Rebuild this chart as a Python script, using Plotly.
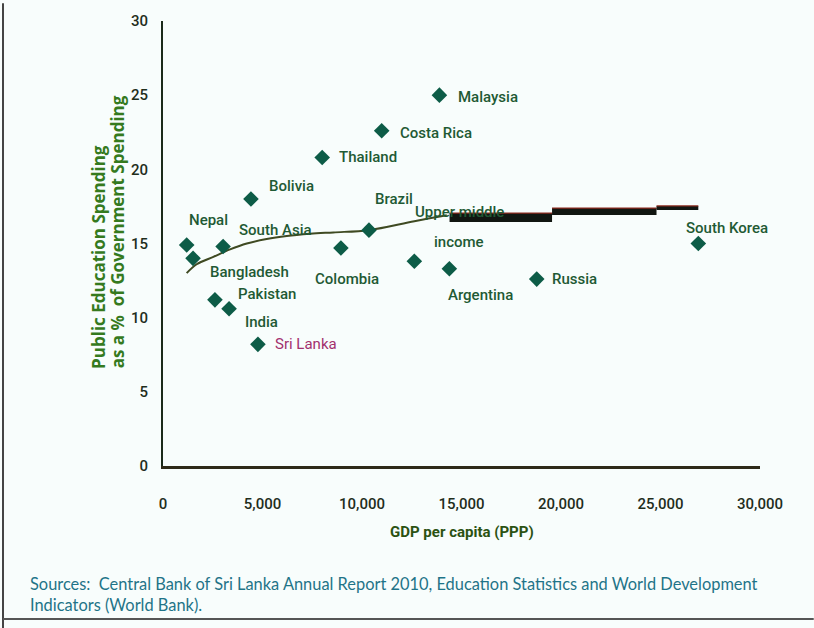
import plotly.graph_objects as go

# Countries / groups: GDP per capita (PPP, US$) and education share of government spending (%)
countries = ["Nepal", "Bangladesh", "South Asia", "Pakistan", "India", "Sri Lanka",
             "Bolivia", "Thailand", "Colombia", "Brazil", "Costa Rica", "Malaysia",
             "Upper middle income", "Argentina", "Russia", "South Korea"]
gdp_ppp = [1190, 1510, 3020, 2610, 3320, 4770,
           4420, 8000, 8940, 10350, 10990, 13890,
           12630, 14390, 18780, 26900]
edu_share = [14.9, 14.0, 14.8, 11.2, 10.6, 8.2,
             18.0, 20.8, 14.7, 15.9, 22.6, 25.0,
             13.8, 13.3, 12.6, 15.0]

# Fitted trend, thin part
trend_x = [1190, 1690, 2530, 3370, 4210, 5210, 6220, 7390, 8560, 10340, 12630, 14260]
trend_y = [13.0, 13.6, 14.1, 14.6, 15.0, 15.3, 15.5, 15.65, 15.75, 15.9, 16.5, 16.9]
# Fitted trend, heavy stepped part: one (start, end, level) per step
step_start = [14400, 19550, 24800]
step_end = [19550, 24800, 26900]
step_level = [16.75, 17.15, 17.4]

x_ticks = [0, 5000, 10000, 15000, 20000, 25000, 30000]
x_tick_text = ["0", "5,000", "10,000", "15,000", "20,000", "25,000", "30,000"]
y_ticks = [0, 5, 10, 15, 20, 25, 30]

# Label placement relative to each marker: (xanchor, xshift px, yshift px)
label_pos = {
    "Nepal": ("left", 0, 25),
    "Bangladesh": ("left", 15, -14),
    "South Asia": ("left", 14, 16),
    "Pakistan": ("left", 21, 6),
    "India": ("left", 14, -13),
    "Sri Lanka": ("left", 15, 0),
    "Bolivia": ("left", 16, 13),
    "Thailand": ("left", 15, 0),
    "Colombia": ("center", 6, -31),
    "Brazil": ("left", 4, 31),
    "Costa Rica": ("left", 16, -2),
    "Malaysia": ("left", 17, -2),
    "Argentina": ("center", 31, -26),
    "Russia": ("left", 13, 0),
    "South Korea": ("center", 29, 16),
}
step_widths = [9, 7, 4]

LABEL_FONT = "Roboto, Liberation Sans, sans-serif"
label_color = "#1f5a34"
marker_color = "#0d5c47"
bg = "#f8fdfc"

fig = go.Figure()

fig.add_trace(go.Scatter(
    x=trend_x, y=trend_y, mode="lines",
    line=dict(color="#3f4a22", width=2, shape="spline"),
    hoverinfo="skip", showlegend=False))
for x0, x1, lvl, w in zip(step_start, step_end, step_level, step_widths):
    fig.add_trace(go.Scatter(
        x=[x0, x1], y=[lvl, lvl], mode="lines",
        line=dict(color="#111611", width=w), hoverinfo="skip", showlegend=False))
    fig.add_trace(go.Scatter(
        x=[x0, x1], y=[lvl + w / 30.0, lvl + w / 30.0], mode="lines",
        line=dict(color="#8a2a1e", width=1.2), hoverinfo="skip", showlegend=False))

fig.add_trace(go.Scatter(
    x=gdp_ppp, y=edu_share, mode="markers", text=countries,
    marker=dict(symbol="diamond", size=12, color=marker_color),
    showlegend=False))

annotations = []
for name, gx, ey in zip(countries, gdp_ppp, edu_share):
    if name == "Upper middle income":
        for txt, ys in (("Upper middle", 49), ("income", 19)):
            annotations.append(dict(
                x=gx, y=ey, xref="x", yref="y", text=txt, showarrow=False,
                xanchor="center", yanchor="middle", xshift=45, yshift=ys,
                font=dict(family=LABEL_FONT, size=15, color=label_color, weight=500)))
        continue
    anchor, xs, ys = label_pos[name]
    color = "#a3306e" if name == "Sri Lanka" else label_color
    weight = 400 if name == "Sri Lanka" else 500
    annotations.append(dict(
        x=gx, y=ey, xref="x", yref="y", text=name, showarrow=False,
        xanchor=anchor, yanchor="middle", xshift=xs, yshift=ys,
        font=dict(family=LABEL_FONT, size=15, color=color, weight=weight)))

# Axis titles
annotations.append(dict(
    x=0.5, y=-0.148, xref="paper", yref="paper", text="<b>GDP per capita (PPP)</b>",
    showarrow=False, xanchor="center", yanchor="middle",
    font=dict(family=LABEL_FONT, size=15, color="#2b5212")))
for txt, xp in (("Public Education Spending", -0.107), ("as a %  of Government Spending", -0.077)):
    annotations.append(dict(
        x=xp, y=0.214, xref="paper", yref="paper", text="<b>" + txt + "</b>",
        showarrow=False, xanchor="center", yanchor="bottom", textangle=-90,
        font=dict(family="Open Sans, DejaVu Sans, sans-serif", size=17, color="#357a1e")))
# Source note
annotations.append(dict(
    x=-0.226, y=-0.238, xref="paper", yref="paper",
    text="Sources:  Central Bank of Sri Lanka Annual Report 2010, Education Statistics and World Development<br>Indicators (World Bank).",
    showarrow=False, xanchor="left", yanchor="top", align="left",
    font=dict(family="Lato, Open Sans, sans-serif", size=16.4, color="#1f7488")))

fig.update_layout(
    width=814, height=628,
    margin=dict(l=163, r=54, t=18, b=162),
    paper_bgcolor=bg, plot_bgcolor=bg,
    annotations=annotations,
    xaxis=dict(range=[0, 30000], tickvals=x_ticks, ticktext=x_tick_text,
               showgrid=False, zeroline=False, showline=True, linecolor="#2e2a18",
               linewidth=3, ticks="", ticklabelstandoff=22,
               tickfont=dict(family=LABEL_FONT, size=15, color="#1f2e1c", weight=500)),
    yaxis=dict(range=[0, 30], tickvals=y_ticks, showgrid=False, zeroline=False,
               showline=True, linecolor="#1b2a1a", linewidth=2, ticks="",
               ticklabelstandoff=10,
               tickfont=dict(family=LABEL_FONT, size=15, color="#1f2e1c", weight=500)),
    shapes=[
        dict(type="line", xref="paper", yref="paper", x0=-0.268, x1=-0.268, y0=-0.37, y1=1.04,
             line=dict(color="#444444", width=2)),
        dict(type="line", xref="paper", yref="paper", x0=-0.268, x1=1.09, y0=-0.344, y1=-0.344,
             line=dict(color="#555555", width=2)),
    ],
)

fig.write_html("out.html")
